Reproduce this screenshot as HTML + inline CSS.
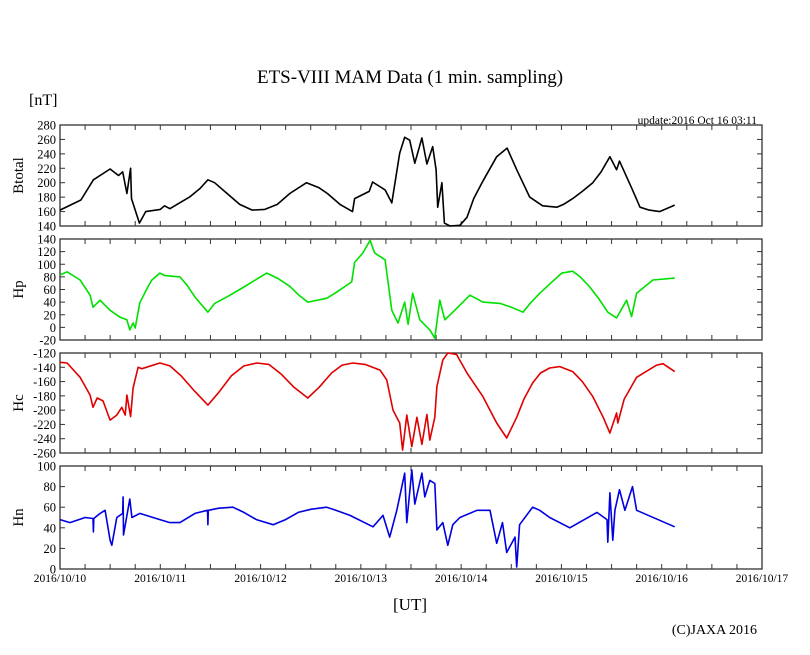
<!DOCTYPE html>
<html><head><meta charset="utf-8"><style>
body{margin:0;background:#fff;}
svg{display:block;font-family:"Liberation Serif",serif;}
</style></head><body>
<svg id="chart" width="810" height="655" viewBox="0 0 810 655">
<text x="410" y="83" text-anchor="middle" font-size="19">ETS-VIII MAM Data (1 min. sampling)</text>
<text x="29" y="105" font-size="16">[nT]</text>
<text x="757" y="124" text-anchor="end" font-size="11.5">update:2016 Oct 16 03:11</text>
<text x="410" y="610" text-anchor="middle" font-size="17">[UT]</text>
<text x="757" y="634" text-anchor="end" font-size="14">(C)JAXA 2016</text>
<g id="panels"></g>
</svg>
<script>
const dayLabels = ["2016/10/10","2016/10/11","2016/10/12","2016/10/13","2016/10/14","2016/10/15","2016/10/16","2016/10/17"];
const btTimes = [0,5,8,12,14,15,16,16.9,17.1,19,20.5,24,25,26.3,28,31,33.5,35.4,37,40,43,46,49,52,55,59,62,64,67,70,70.5,74,74.8,77.8,79.4,81.3,82.5,83.7,84.9,86.6,87.8,89.2,90,90.4,91.4,92,93.3,95.7,97.4,99,101,104.5,107,109.3,112.4,115.5,118.9,120.5,122.7,125,127.5,129.5,131.6,133.2,133.9,137,138.8,141,143.5,147.1];
const btValues = [162,176,204,219,210,215,185,220,178,144,160,163,168,164,170,180,192,204,200,185,170,162,163,170,185,200,193,185,170,160,178,188,201,190,172,241,263,259,227,262,226,250,218,166,200,144,140,141,152,178,200,236,248,218,180,168,166,170,178,188,200,215,236,218,230,190,166,162,160,169];
const hpTimes = [0,1.7,4.8,7.2,7.9,9.6,12,14.4,16,16.7,17.5,18,19.1,21,22,23.9,25.1,28.7,30.5,32.3,35.4,37,39.9,43,46,49.5,52,55,57,59.3,63.8,66,69.8,70.5,72.5,74.2,75.3,77.8,79.4,80.9,82.5,83.3,84.4,86.1,88.5,89.7,90.9,92.1,94,98.1,101.2,105.3,108,110.8,112.5,114.8,117.4,120.1,122.7,124.5,126.8,129,131.1,133.2,135.6,136.8,138,141.9,147.1];
const hpValues = [83,88,75,51,32,43,27,16,12,-4,7,-1,39,64,75,86,82,80,66,48,24,38,48,60,72,86,78,65,52,40,46,55,72,103,118,138,118,107,27,7,40,5,54,12,-4,-17,43,12,24,51,40,38,32,24,38,54,70,86,89,80,64,45,24,15,43,17,54,75,78];
const hcTimes = [0,1.7,4.8,7.2,7.9,8.9,10.3,12,13.6,14.8,15.6,16,16.9,17.5,18.7,19.6,23.9,26.3,29,32.3,35.4,38,41,44,47.1,50,53,56,59.3,62,65,67.5,70.1,73,76.6,78.2,79.7,81.3,82,83,84.2,85.4,86.6,87.8,88.5,89.7,90.2,91.6,92.8,94.9,97.4,101.2,104.5,106.9,109.3,111,113.1,115,117.2,119.6,122.7,125,127.5,130,131.6,133.2,133.5,135,138,142.8,144.3,147.1];
const hcValues = [-133,-134,-154,-179,-196,-183,-187,-214,-207,-196,-207,-179,-209,-169,-140,-142,-134,-138,-152,-174,-193,-175,-152,-138,-134,-136,-150,-168,-183,-168,-148,-137,-134,-136,-144,-158,-200,-218,-256,-207,-251,-210,-248,-206,-242,-210,-167,-130,-120,-122,-148,-181,-218,-239,-210,-185,-162,-148,-141,-139,-146,-160,-181,-210,-232,-204,-218,-185,-154,-137,-135,-146];
const hnTimes = [0,2.4,6,7.9,8,8.1,9.6,10.8,12,12.4,13.6,15,15.1,15.2,16.7,17.2,19.1,23.9,26.3,28.7,32.3,35.3,35.4,35.5,38,41.4,44,47,51,54,57,60,63.8,66,69.4,74.9,77.3,78.9,80.6,82.5,83,84.2,84.9,86.6,87.3,88.5,89.7,90.2,91.6,92.8,94,95.7,99.8,102.9,104.5,105.9,106.9,108.9,109.3,110,113.1,114.8,117.2,122,128.5,130.9,131.1,131.6,132.3,132.8,133.9,135.2,137,138,147.1];
const hnValues = [48,45,50,49,36,49,54,57,28,23,50,54,70,33,68,50,54,48,45,45,54,57,43,57,59,60,55,48,43,48,55,58,60,57,52,41,52,31,57,93,45,96,63,93,70,86,83,38,45,23,43,50,57,57,25,45,16,31,2,43,60,57,50,40,55,48,26,74,28,57,77,57,80,57,41];
const btTicks = [140,160,180,200,220,240,260,280];
const hpTicks = [-20,0,20,40,60,80,100,120,140];
const hcTicks = [-260,-240,-220,-200,-180,-160,-140,-120];
const hnTicks = [0,20,40,60,80,100];

const NS="http://www.w3.org/2000/svg";
const X0=60, X1=762, DAYS=7;
const xScale = h => X0 + (h/24)*(X1-X0)/DAYS;
const g=document.getElementById('panels');
function mk(tag,attrs,parent){const e=document.createElementNS(NS,tag);for(const k in attrs)e.setAttribute(k,attrs[k]);(parent||g).appendChild(e);return e;}
const panels=[
 {key:'btotal',label:'Btotal',top:125,bot:226,ticks:btTicks,t:btTimes,v:btValues,color:'#000'},
 {key:'hp',label:'Hp',top:239,bot:340,ticks:hpTicks,t:hpTimes,v:hpValues,color:'#00e000'},
 {key:'hc',label:'Hc',top:353,bot:453,ticks:hcTicks,t:hcTimes,v:hcValues,color:'#e00000'},
 {key:'hn',label:'Hn',top:466,bot:569,ticks:hnTicks,t:hnTimes,v:hnValues,color:'#0000e0'}
];
panels.forEach((p,pi)=>{
  const lo=p.ticks[0], hi=p.ticks[p.ticks.length-1];
  const yScale=v=>p.bot-(v-lo)/(hi-lo)*(p.bot-p.top);
  const grp=mk('g',{});
  
  
  const r=mk('rect',{x:X0,y:p.top,width:X1-X0,height:p.bot-p.top,fill:'none',stroke:'#333','stroke-width':1.3},grp);
  
  
  p.ticks.forEach(tv=>{
    const y=yScale(tv);
    mk('line',{x1:X0,x2:X0+5,y1:y,y2:y,stroke:'#333'},grp);
    mk('line',{x1:X1-5,x2:X1,y1:y,y2:y,stroke:'#333'},grp);
    const tl=mk('text',{x:56,y:y+4.5,'text-anchor':'end','font-size':12.5},grp);
    tl.textContent=tv;
    
    
  });
  for(let h=0;h<=DAYS*24;h+=6){
    const x=xScale(h);
    mk('line',{x1:x,x2:x,y1:p.top,y2:p.top+5,stroke:'#333'},grp);
    mk('line',{x1:x,x2:x,y1:p.bot-5,y2:p.bot,stroke:'#333'},grp);
  }
  const cy=(p.top+p.bot)/2;
  const yl=mk('text',{x:23,y:cy,'text-anchor':'middle','font-size':15,transform:`rotate(-90 23 ${cy})`},grp);
  yl.textContent=p.label;
  
  
  const d=p.t.map((t,i)=>(i?'L':'M')+xScale(t).toFixed(1)+','+Math.max(p.top,Math.min(p.bot,yScale(p.v[i]))).toFixed(1)).join(' ');
  const path=mk('path',{d:d,fill:'none',stroke:p.color,'stroke-width':1.6,'stroke-linejoin':'round'},grp);
  
  
});
dayLabels.forEach((lab,i)=>{
  const t=mk('text',{x:xScale(i*24),y:582,'text-anchor':'middle','font-size':11.5});
  t.textContent=lab;
  
  
});
</script>
</body></html>
